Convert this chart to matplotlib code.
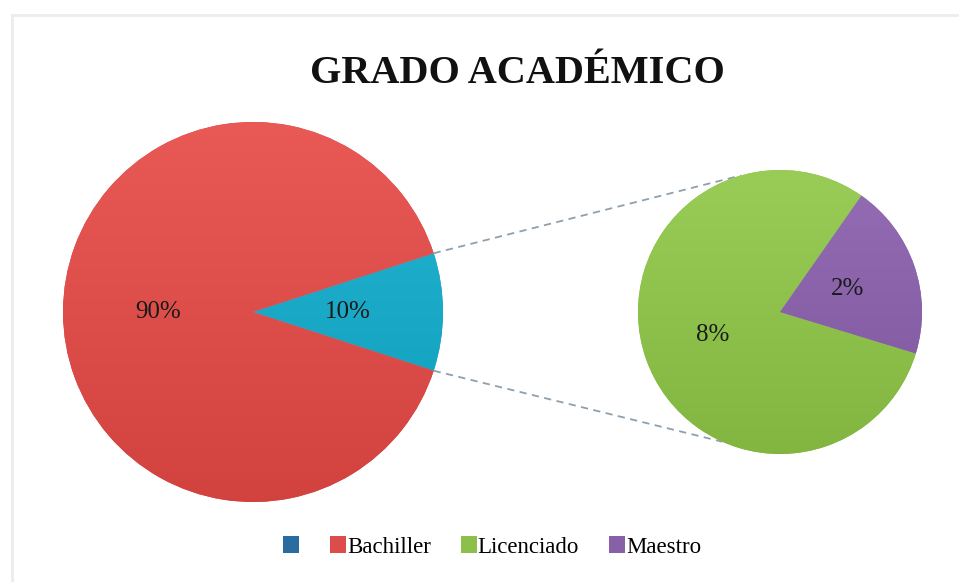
import matplotlib
matplotlib.use('Agg')
import matplotlib.pyplot as plt
import numpy as np
from matplotlib.patches import Patch
from matplotlib.colors import LinearSegmentedColormap, to_rgb

plt.rcParams['font.family'] = ['Liberation Serif', 'DejaVu Serif']

title = "GRADO ACADÉMICO"
main_labels = ["", "Bachiller"]      # "" = aggregated slice shown in second pie
main_values = [10, 90]
sub_labels = ["Licenciado", "Maestro"]
sub_values = [8, 2]
legend_labels = ["", "Bachiller", "Licenciado", "Maestro"]

colors_main = ["#19A7C6", "#DC4C49"]
colors_sub = ["#8CC04A", "#8860A8"]
legend_colors = ["#2A6CA0", "#DC4C49", "#8CC04A", "#8860A8"]

W, H = 959, 582
fig = plt.figure(figsize=(W / 100, H / 100), dpi=100)
ax = fig.add_axes([0, 0, 1, 1])

c1 = (253, H - 312); r1 = 190
c2 = (780, H - 312); r2 = 142
half = 360 * main_values[0] / sum(main_values) / 2

txt = dict(fontsize=18, color="#1a1a1a")
w1, t1, a1 = ax.pie(main_values, colors=colors_main, startangle=-half,
                    center=c1, radius=r1, autopct=lambda p: f"{p:.0f}%",
                    pctdistance=0.5, textprops=txt,
                    wedgeprops=dict(linewidth=0))
w2, t2, a2 = ax.pie(sub_values, colors=colors_sub, startangle=55,
                    center=c2, radius=r2,
                    autopct=lambda p: f"{p * sum(sub_values) / 100:.0f}%",
                    pctdistance=0.5, textprops=txt,
                    wedgeprops=dict(linewidth=0))


def shade(wedges, cols, center, r):
    for w, c in zip(wedges, cols):
        base = np.array(to_rgb(c))
        top = np.clip(base + 0.05, 0, 1)
        bot = np.clip(base - 0.04, 0, 1)
        cmap = LinearSegmentedColormap.from_list("g", [bot, top])
        grad = np.linspace(0, 1, 256).reshape(-1, 1)
        im = ax.imshow(grad, cmap=cmap, origin="lower",
                       extent=[center[0] - r, center[0] + r, center[1] - r, center[1] + r],
                       aspect="auto", zorder=w.get_zorder() + 0.1)
        im.set_clip_path(w)


shade(w1, colors_main, c1, r1)
shade(w2, colors_sub, c2, r2)
for t in list(a1) + list(a2):
    t.set_zorder(5)

# connector lines
ang_l = np.deg2rad([half, -half])
ang_r = np.deg2rad([106, -114])
for al, ar in zip(ang_l, ang_r):
    x0 = c1[0] + r1 * np.cos(al); y0 = c1[1] + r1 * np.sin(al)
    x1 = c2[0] + r2 * np.cos(ar); y1 = c2[1] + r2 * np.sin(ar)
    ax.plot([x0, x1], [y0, y1], color="#8fa0ad", lw=1.3, ls=(0, (4, 3)), zorder=1)

# faint chart border
ax.plot([12, W], [H - 15, H - 15], color="#ececec", lw=2, zorder=0)
ax.plot([12, 12], [H - 15, 0], color="#ececec", lw=2, zorder=0)

ax.text(517, H - 83, title, fontsize=29, fontweight="bold", ha="center",
        va="baseline", color="#111111")

handles = [Patch(facecolor=c, edgecolor="none") for c in legend_colors]
fig.legend(handles, legend_labels, loc="center", bbox_to_anchor=(0.513, 35 / H),
           ncol=4, frameon=False, handlelength=0.7, handleheight=0.7,
           handletextpad=0.05, columnspacing=1.3, fontsize=16.5)

ax.set_xlim(0, W)
ax.set_ylim(0, H)
ax.set_aspect("equal")
ax.axis("off")
fig.savefig("out.png", dpi=100)
